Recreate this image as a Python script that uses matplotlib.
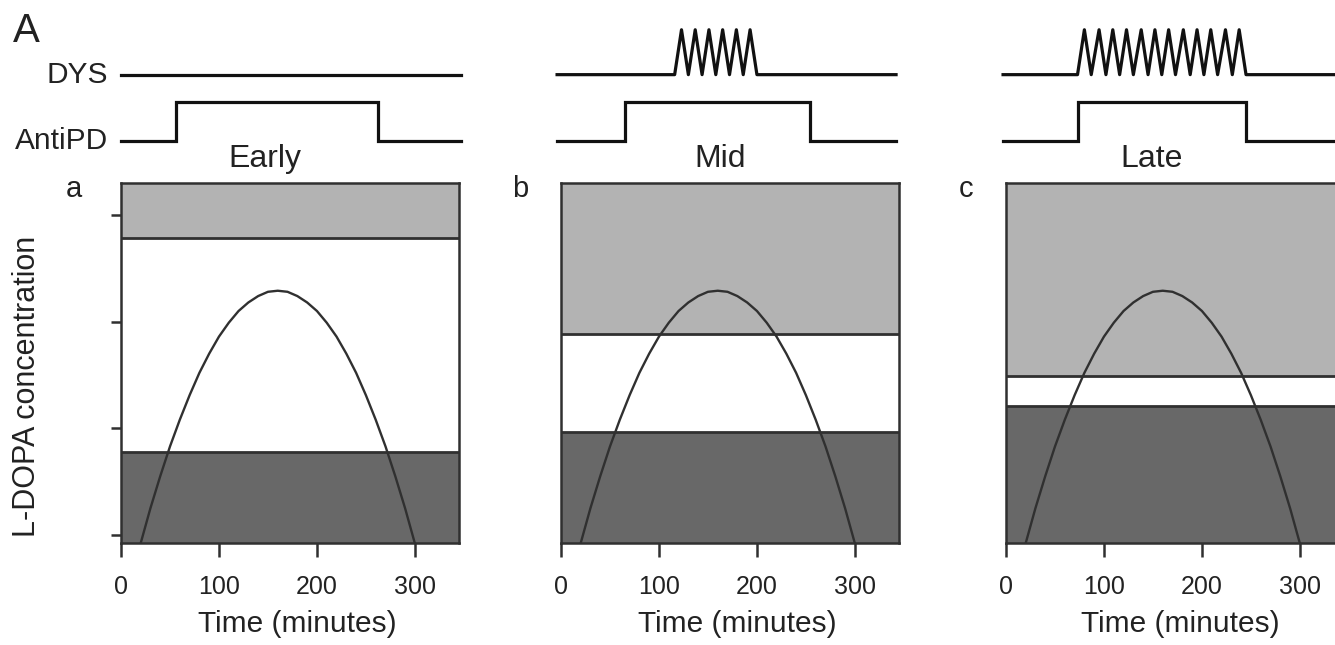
import matplotlib
matplotlib.use("Agg")
import matplotlib.pyplot as plt

plt.rcParams["font.family"] = ["Liberation Sans", "DejaVu Sans"]

# ---- data ----
stages = ["Early", "Mid", "Late"]
panel_letters = ["a", "b", "c"]

# L-DOPA concentration over time (same curve in all three panels)
curve_t = [20, 30, 40, 50, 60, 70, 80, 90, 100, 110, 120, 130, 140, 150, 160,
           170, 180, 190, 200, 210, 220, 230, 240, 250, 260, 270, 280, 290, 300]
curve_c = [-0.08, 0.25, 0.55, 0.83, 1.08, 1.31, 1.52, 1.70, 1.86, 1.99, 2.10, 2.18, 2.24, 2.28, 2.29,
           2.28, 2.24, 2.18, 2.10, 1.99, 1.86, 1.70, 1.52, 1.31, 1.08, 0.83, 0.55, 0.25, -0.08]

# band limits: below lower -> dark band, above upper -> light band
band_lower = [0.776, 0.963, 1.206]
band_upper = [2.785, 1.888, 1.486]

# AntiPD on/off times (minutes)
antipd_on = [56, 65, 73]
antipd_off = [262, 254, 245]

# DYS traces (time, level 0 = baseline, 1 = peak)
early_dys_t = [0, 347]
early_dys_y = [0, 0]
mid_dys_t = [-4, 116, 123, 130, 137, 144, 151, 158, 165, 172, 179, 186, 193, 200, 342]
mid_dys_y = [0, 0, 1, 0, 1, 0, 1, 0, 1, 0, 1, 0, 1, 0, 0]
late_dys_t = [-3, 73, 80, 87, 95, 102, 109, 116, 123, 130, 138, 145, 152, 159,
              166, 173, 181, 188, 195, 202, 209, 216, 224, 231, 238, 245, 350]
late_dys_y = [0, 0] + [1, 0] * 12 + [0]
dys_t = [early_dys_t, mid_dys_t, late_dys_t]
dys_y = [early_dys_y, mid_dys_y, late_dys_y]
trace_start = [0, -4, -3]
trace_end = [347, 342, 350]

xticks = [0, 100, 200, 300]
yticks = [0, 1, 2, 3]

LIGHT = "#b3b3b3"
DARK = "#686868"
LINE = "#303030"

W, H = 1335, 645
fig = plt.figure(figsize=(W / 100, H / 100), dpi=100)

lefts = [121, 561, 1006]
pw = 338 / W
title_x = [265, 720, 1152]
letter_x = [74, 520, 966]
xlabel_x = [297, 737, 1180]

for i in range(3):
    left = lefts[i] / W
    ax = fig.add_axes([left, (H - 543) / H, pw, 360 / H])
    ax.set_xlim(0, 345)
    ax.set_ylim(-0.075, 3.30)
    ax.axhspan(band_upper[i], 3.30, color=LIGHT, lw=0)
    ax.axhspan(-0.075, band_lower[i], color=DARK, lw=0)
    ax.axhline(band_upper[i], color=LINE, lw=2)
    ax.axhline(band_lower[i], color=LINE, lw=2)
    ax.plot(curve_t, curve_c, color=LINE, lw=1.7, clip_on=True)
    for s in ax.spines.values():
        s.set_linewidth(1.8)
        s.set_color(LINE)
    ax.set_xticks(xticks)
    ax.set_xticklabels([str(t) for t in xticks])
    ax.tick_params(axis="x", length=10, width=1.8, color=LINE, pad=13,
                   labelsize=18, labelcolor="#222222")
    if i == 0:
        ax.set_yticks(yticks)
        ax.set_yticklabels([])
        ax.tick_params(axis="y", length=7, width=1.8, color=LINE)
    else:
        ax.set_yticks([])

    # top traces
    tax = fig.add_axes([left, (H - 150) / H, pw, 130 / H])
    tax.set_xlim(0, 345)
    tax.set_ylim(-0.23, 3.10)
    tax.axis("off")
    on, off = antipd_on[i], antipd_off[i]
    tax.plot([trace_start[i], on, on, off, off, trace_end[i]], [0, 0, 1, 1, 0, 0],
             color="#111111", lw=2.3, clip_on=False, solid_joinstyle="miter")
    tax.plot(dys_t[i], [1.70 + 1.15 * v for v in dys_y[i]],
             color="#111111", lw=2.3, clip_on=False)

    fig.text(title_x[i] / W, 1 - 167 / H, stages[i], ha="center", va="baseline",
             fontsize=23, color="#222222")
    fig.text(letter_x[i] / W, 1 - 197 / H, panel_letters[i], ha="center", va="baseline",
             fontsize=21, color="#222222")
    fig.text(xlabel_x[i] / W, 1 - 632 / H, "Time (minutes)", ha="center", va="baseline",
             fontsize=21.5, color="#222222")

fig.text(13 / W, 1 - 42 / H, "A", ha="left", va="baseline", fontsize=29, color="#222222")
fig.text(108 / W, 1 - 75 / H, "DYS", ha="right", va="center", fontsize=21.5, color="#222222")
fig.text(108 / W, 1 - 141 / H, "AntiPD", ha="right", va="center", fontsize=21.5, color="#222222")
fig.text(27 / W, 1 - 386 / H, "L-DOPA concentration", rotation=90, ha="center", va="center",
         fontsize=22, color="#222222")

fig.savefig("out.png", dpi=100)
